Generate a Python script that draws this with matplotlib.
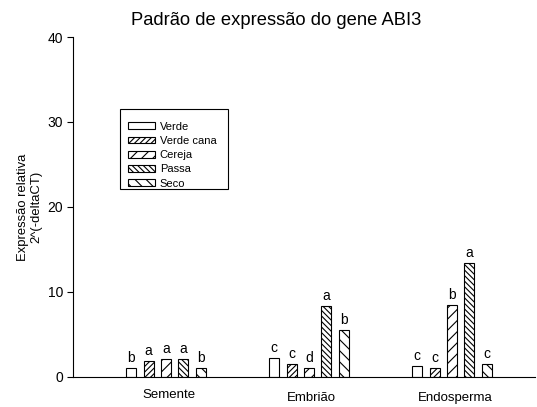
import numpy as np
import matplotlib
matplotlib.use("Agg")
import matplotlib.pyplot as plt
from matplotlib.patches import Rectangle
from matplotlib.transforms import ScaledTranslation

plt.rcParams['font.family'] = ['Liberation Sans', 'DejaVu Sans']
plt.rcParams['hatch.linewidth'] = 0.8

tecidos = ["Semente", "Embrião", "Endosperma"]
estadios = ["Verde", "Verde cana", "Cereja", "Passa", "Seco"]
hachuras = ["", "//////", "///", "\\\\\\\\\\\\", "\\\\\\"]

# expressao relativa por estadio (linhas) e tecido (colunas)
valores = [
    [1.0, 2.2, 1.3],
    [1.85, 1.55, 1.0],
    [2.1, 1.05, 8.45],
    [2.1, 8.35, 13.4],
    [1.0, 5.55, 1.5],
]
letras = [
    ["b", "c", "c"],
    ["a", "c", "c"],
    ["a", "d", "b"],
    ["a", "a", "a"],
    ["b", "b", "c"],
]

fig = plt.figure(figsize=(5.37, 4.07), dpi=100)
ax = fig.add_axes([0.136, 0.074, 0.86, 0.835])

x = np.arange(len(tecidos))
largura = 0.07
passo = 0.121

for i, est in enumerate(estadios):
    pos = x + (i - 2) * passo
    ax.bar(pos, valores[i], largura, color="white", edgecolor="black",
           linewidth=0.8, hatch=hachuras[i], label=est)
    for xp, v, l in zip(pos, valores[i], letras[i]):
        ax.text(xp, v + 0.35, l, ha="center", va="bottom", fontsize=10)

ax.set_xlim(-0.65, 2.58)
ax.set_ylim(0, 40)
ax.set_yticks([0, 10, 20, 30, 40])
ax.set_xticks(x + 0.02)
ax.set_xticklabels(tecidos, fontsize=9.5)
ax.tick_params(axis="x", length=0, pad=11)
ax.tick_params(axis="y", labelsize=10, direction="out", length=4, width=0.8, pad=3)
ax.spines["top"].set_visible(False)
ax.spines["right"].set_visible(False)
for s in ["left", "bottom"]:
    ax.spines[s].set_linewidth(0.8)

# "Semente" fica um pouco mais alto
lab = ax.get_xticklabels()[0]
lab.set_transform(lab.get_transform() + ScaledTranslation(0, 3.5 / 100, fig.dpi_scale_trans))

ax.set_ylabel("Expressão relativa\n2^(-deltaCT)", fontsize=9.4, labelpad=4,
              linespacing=1.1)
ax.set_title("Padrão de expressão do gene ABI3", fontsize=13.2, pad=9, x=0.44)

# legenda sem moldura + caixa desenhada a parte (mais espaco em cima)
leg = ax.legend(loc="upper left", bbox_to_anchor=(0.119, 0.751), fontsize=8,
                frameon=False, handlelength=2.4, handleheight=0.55,
                borderpad=0, labelspacing=0.38, handletextpad=0.45,
                borderaxespad=0)
ax.add_patch(Rectangle((0.102, 0.553), 0.234, 0.235, transform=ax.transAxes,
                       fill=False, edgecolor="black", linewidth=0.8, zorder=5))

fig.savefig("out.png", dpi=100)
